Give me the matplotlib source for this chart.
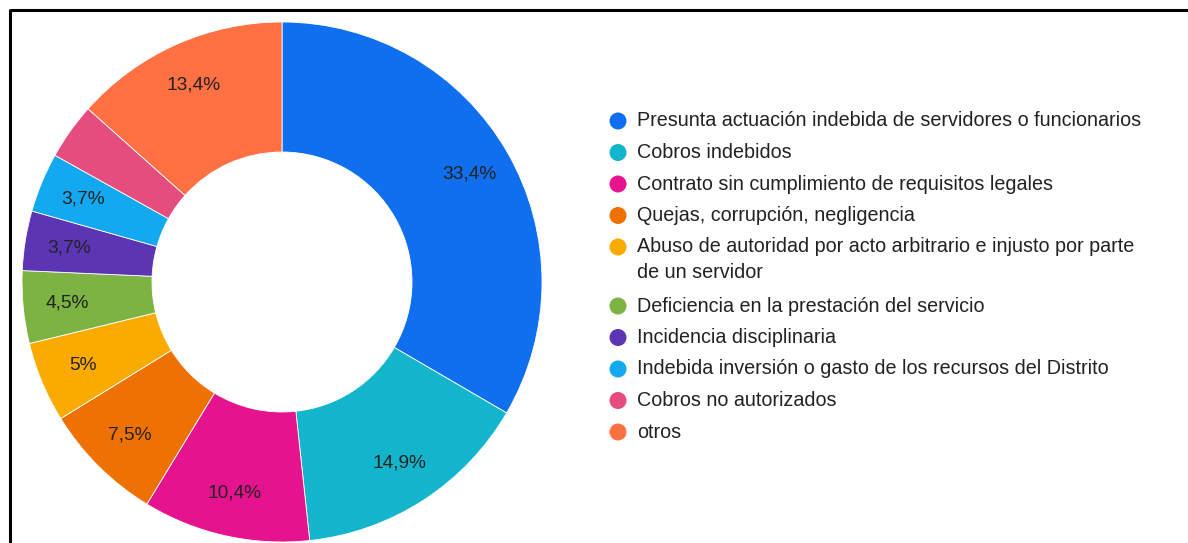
import math
import textwrap
import matplotlib
matplotlib.use("Agg")
import matplotlib.pyplot as plt

plt.rcParams['font.family'] = ['Liberation Sans', 'DejaVu Sans']

categories = [
    "Presunta actuación indebida de servidores o funcionarios",
    "Cobros indebidos",
    "Contrato sin cumplimiento de requisitos legales",
    "Quejas, corrupción, negligencia",
    "Abuso de autoridad por acto arbitrario e injusto por parte de un servidor",
    "Deficiencia en la prestación del servicio",
    "Incidencia disciplinaria",
    "Indebida inversión o gasto de los recursos del Distrito",
    "Cobros no autorizados",
    "otros",
]
values = [33.4, 14.9, 10.4, 7.5, 5.0, 4.5, 3.7, 3.7, 3.5, 13.4]
colors = ["#0f6fef", "#12b5cb", "#e5138e", "#ee7203", "#fbab00",
          "#7cb342", "#5c35b4", "#12a9f0", "#e54d7f", "#ff7043"]
min_labelled = 3.6  # slices below this share get no percentage label


def fmt(v):
    return (f"{v:g}".replace(".", ",") + "%") if v >= min_labelled else ""


W, H = 1188, 543
fig = plt.figure(figsize=(W / 100, H / 100), dpi=100)

# donut axes: centre (282, 282) px, radius 260 px
cx, cy, R = 282, 282, 260
ax = fig.add_axes([(cx - R) / W, (H - cy - R) / H, 2 * R / W, 2 * R / H])
wedges, texts = ax.pie(values, colors=colors, startangle=90, counterclock=False,
                       radius=1.0, wedgeprops=dict(width=0.5, edgecolor="white", linewidth=0.6))
total = sum(values)
ang = 90.0
for w, v in zip(wedges, values):
    frac = v / total
    mid = ang - frac * 360 / 2
    ang -= frac * 360
    r = 0.83
    ax.text(r * math.cos(math.radians(mid)), r * math.sin(math.radians(mid)), fmt(v),
            ha="center", va="center", fontsize=13.8, color="#222222")
ax.set_xlim(-1, 1)
ax.set_ylim(-1, 1)
ax.set_aspect("equal")
ax.axis("off")

# overlay axes in pixel coordinates for legend and border
lax = fig.add_axes([0, 0, 1, 1], zorder=-1)
lax.set_xlim(0, W)
lax.set_ylim(H, 0)
lax.axis("off")
lax.patch.set_alpha(0)

# border (top and left)
lax.plot([10, W + 5], [10, 10], color="black", lw=2.2, solid_capstyle="butt")
lax.plot([10, 10], [9, H + 5], color="black", lw=2.2, solid_capstyle="butt")

# legend
y = 121
for cat, col in zip(categories, colors):
    lines = textwrap.wrap(cat, width=58)
    lax.scatter([618], [y], s=150, color=col, edgecolors="none")
    for i, ln in enumerate(lines):
        lax.text(637, y + i * 25, ln, ha="left", va="center", fontsize=14.2, color="#222222")
    y += 31.5 + (len(lines) - 1) * 27.5

fig.savefig("out.png", dpi=100, facecolor="white")
